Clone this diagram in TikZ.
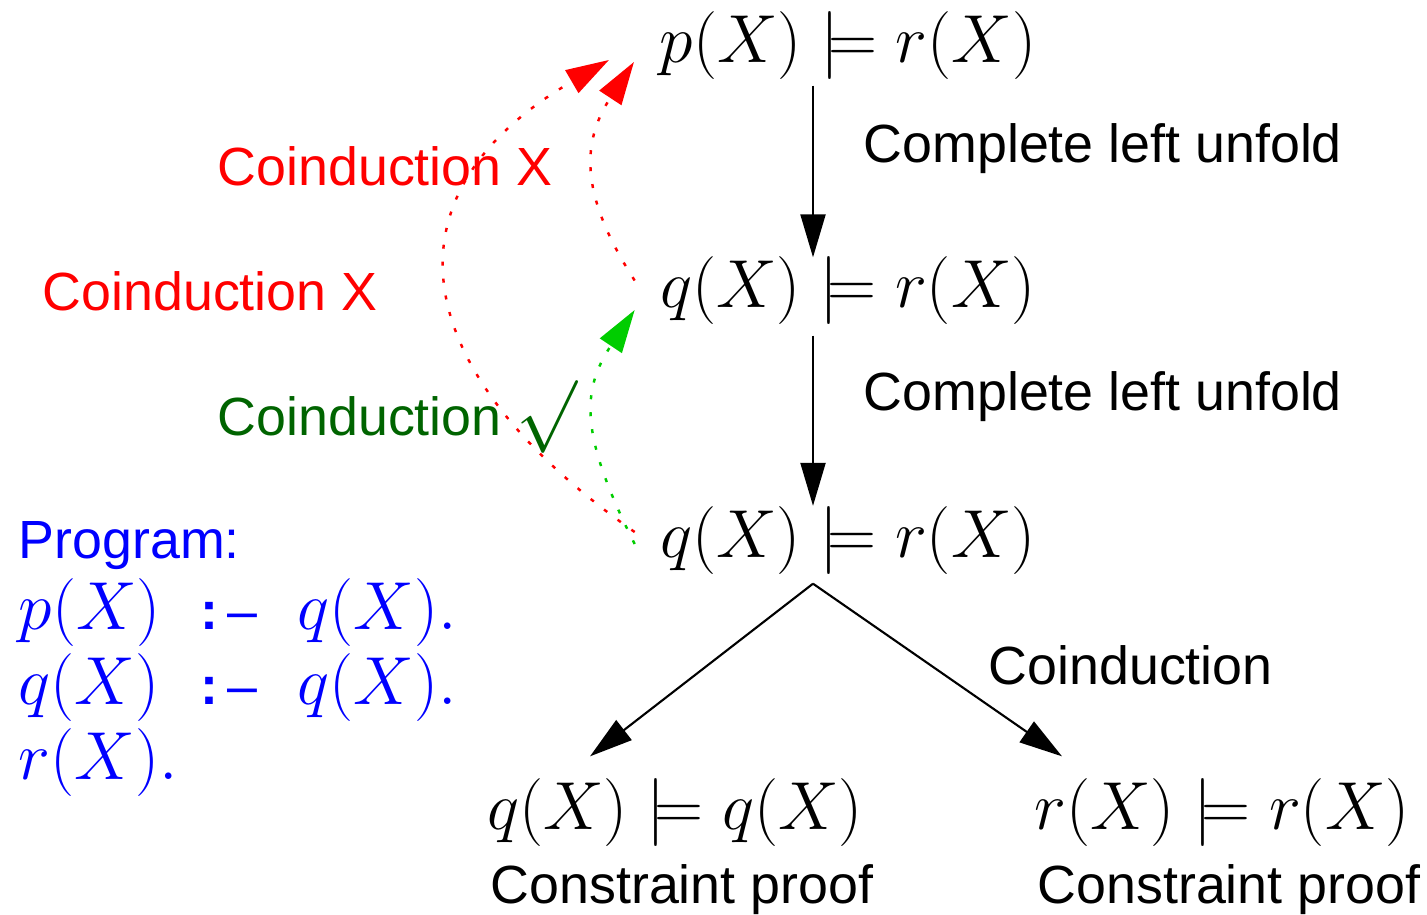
\RequirePackage{fix-cm}
\documentclass[tikz,border=0pt]{standalone}
\usepackage{fontspec}
\setmainfont{Liberation Sans}
\usetikzlibrary{arrows.meta}
\definecolor{darkgreen}{RGB}{0,100,0}
\definecolor{brightgreen}{RGB}{0,205,0}
\tikzset{
  goal/.style={inner sep=0pt, font=\fontsize{19.33}{23}\selectfont},
  lbl/.style={inner sep=0pt, anchor=base west, font=\fontsize{15.3}{18}\selectfont},
  step arrow/.style={line width=0.6pt, -{Triangle[length=4.3mm,width=2.5mm]}},
  coind/.style={line width=0.7pt, dash pattern=on 0.04cm off 0.13cm, -{Triangle[length=4.3mm,width=2.6mm]}}
}
\newcommand{\neck}{\makebox[0.97cm][l]{\fontsize{15.3}{18}\selectfont\textbf{:}\,--}}
\begin{document}
\begin{tikzpicture}
    \useasboundingbox (0,0) rectangle (14.27,9.14);

    % Goals
    \node[goal] (p1) at (8.48,8.685) {$p(X) \models r(X)$};
    \node[goal] (q1) at (8.48,6.235) {$q(X) \models r(X)$};
    \node[goal] (q2) at (8.48,3.735) {$q(X) \models r(X)$};
    \node[goal] (qq) at (6.75,1.02) {$q(X) \models q(X)$};
    \node[goal] (rr) at (12.22,1.02) {$r(X) \models r(X)$};

    % Step labels
    \node[lbl] (u1) at (8.63,7.52) {Complete left unfold};
    \node[lbl] (u2) at (8.63,5.04) {Complete left unfold};
    \node[lbl] (c1) at (9.88,2.30) {Coinduction};
    \node[lbl] (cp1) at (4.90,0.11) {Constraint proof};
    \node[lbl] (cp2) at (10.37,0.11) {Constraint proof};

    % Coinduction attempts
    \node[lbl, text=red] (x1) at (2.17,7.29) {Coinduction X};
    \node[lbl, text=red] (x2) at (0.42,6.04) {Coinduction X};
    \node[lbl, text=darkgreen] (ok) at (2.17,4.79)
      {Coinduction {\fontsize{20.7}{24}\selectfont$\surd$}};

    % Program
    \node[lbl, text=blue] (prog) at (0.18,3.56) {Program:};
    \node[goal, anchor=base west, text=blue] (cl1) at (0.18,2.85)
      {\makebox[1.82cm][l]{$p(X)$}\neck$q(X).$};
    \node[goal, anchor=base west, text=blue] (cl2) at (0.18,2.10)
      {\makebox[1.82cm][l]{$q(X)$}\neck$q(X).$};
    \node[goal, anchor=base west, text=blue] (cl3) at (0.18,1.35) {$r(X).$};

    % Derivation steps
    \draw[step arrow] ([xshift=-3.5mm,yshift=-0.55mm]p1.south) -- ([xshift=-3.5mm,yshift=-0.15mm]q1.north);
    \draw[step arrow] ([xshift=-3.5mm,yshift=-1.05mm]q1.south) -- ([xshift=-3.5mm]q2.north);
    \draw[step arrow] ([xshift=-3.5mm,yshift=-0.85mm]q2.south) -- ([xshift=-8.5mm,yshift=2.1mm]qq.north);
    \draw[step arrow] ([xshift=-3.5mm,yshift=-0.85mm]q2.south) -- ([xshift=-16mm,yshift=2.1mm]rr.north);

    % Dotted back edges
    \draw[coind, red] ([xshift=-2.5mm,yshift=0.85mm]q2.west)
      .. controls (4.11,5.39) and (3.73,7.165) .. ([xshift=-5mm,yshift=-1.45mm]p1.west);
    \draw[coind, red] ([xshift=-2.5mm,yshift=1mm]q1.west)
      .. controls (5.81,7.17) and (5.80,7.70) .. ([xshift=-2.5mm,yshift=-1.65mm]p1.west);
    \draw[coind, brightgreen] ([xshift=-2.5mm,yshift=-0.35mm]q2.west)
      .. controls (5.81,4.77) and (5.80,5.22) .. ([xshift=-2.5mm,yshift=-1.95mm]q1.west);

\end{tikzpicture}
\end{document}
